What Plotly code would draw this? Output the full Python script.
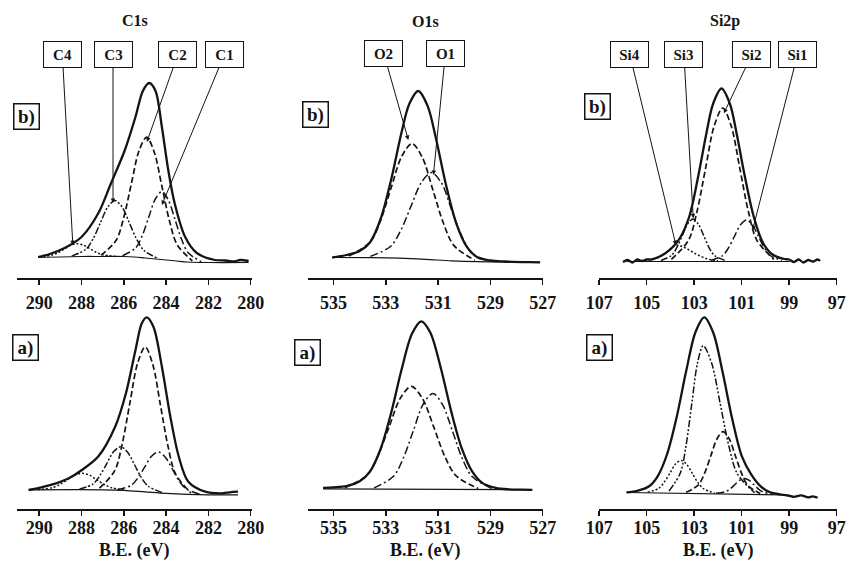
import plotly.graph_objects as go

# ================= DATA (binding energy in eV, intensity in a.u.) =================
# ---- C1s, sample b) ----
c1s_b_env_x = [290.05, 289.5, 288.8, 288.0, 287.2, 286.6, 285.95, 285.45, 285.1, 284.8, 284.5, 284.2, 283.9, 283.6, 283.1, 282.55, 281.7, 281.2, 280.8, 280.5, 280.1]
c1s_b_env_y = [21, 24, 30, 41, 65, 95, 128, 161, 187, 195, 187, 151, 108, 75, 41, 25, 18, 17.5, 16.5, 18, 17]
c1s_b_bg_x = [290.05, 288, 287, 286, 285.5, 285, 284.5, 284, 283.5, 283, 282, 280.1]
c1s_b_bg_y = [20.5, 21.5, 21.5, 21.5, 21, 20, 19, 18, 17, 16, 15.5, 15.5]
c1s_b_C1_x = [286.06, 285.44, 285.13, 284.82, 284.51, 284.2, 283.89, 283.58, 283.27, 282.96, 282.34]
c1s_b_C1_y = [22.3, 30.1, 42.3, 60.9, 79, 86.4, 77.8, 58.5, 38.7, 25.3, 16.3]
c1s_b_C2_x = [287.08, 286.36, 286.0, 285.64, 285.28, 284.92, 284.56, 284.2, 283.84, 283.48, 282.76]
c1s_b_C2_y = [22.8, 37.8, 60.8, 94.6, 127.3, 140.8, 125.8, 91.8, 57, 33.3, 17.1]
c1s_b_C3_x = [288.46, 287.78, 287.44, 287.1, 286.76, 286.42, 286.08, 285.74, 285.4, 285.06, 284.38]
c1s_b_C3_y = [21.9, 29, 39.7, 55.5, 70.9, 77.5, 70.9, 55.2, 39.1, 27.8, 19.4]
c1s_b_C4_x = [290.0, 289.4, 289.1, 288.8, 288.5, 288.2, 287.9, 287.6, 287.3, 287.0, 286.4]
c1s_b_C4_y = [21.1, 22.9, 25.4, 29.1, 32.8, 34.3, 32.8, 29.3, 25.6, 23.3, 21.6]

# ---- C1s, sample a) ----
c1s_a_env_x = [290.5, 289.9, 289.2, 288.6, 288.0, 287.2, 286.4, 285.9, 285.45, 285.15, 284.92, 284.6, 284.2, 283.8, 283.4, 282.95, 282.15, 281.4, 281.0, 280.6]
c1s_a_env_y = [19.3, 22, 26, 31, 39, 53, 83, 116, 159, 186, 192, 182.6, 142.6, 92.6, 52.6, 27.6, 17.6, 16, 17, 17.6]
c1s_a_bg_x = [290.5, 287, 286, 285, 284, 283, 282, 280.6]
c1s_a_bg_y = [19.5, 19.5, 19, 17.5, 16, 15, 14.5, 14.5]
c1s_a_C1_x = [286.31, 285.66, 285.34, 285.01, 284.69, 284.36, 284.04, 283.71, 283.39, 283.06, 282.41]
c1s_a_C1_y = [19.5, 23.9, 31.2, 42.4, 53.1, 57.4, 52.1, 40.4, 28.5, 20.5, 15.1]
c1s_a_C2_x = [287.15, 286.43, 286.07, 285.71, 285.35, 284.99, 284.63, 284.27, 283.91, 283.55, 282.83]
c1s_a_C2_y = [21.1, 38.6, 66.1, 106.6, 145.9, 162.5, 144.8, 104.3, 62.9, 35.1, 16.4]
c1s_a_C3_x = [288.1, 287.45, 287.13, 286.8, 286.48, 286.15, 285.83, 285.5, 285.18, 284.85, 284.2]
c1s_a_C3_y = [20, 25.4, 33.7, 46, 57.7, 62.6, 57.3, 44.8, 32, 23.1, 16.8]
c1s_a_C4_x = [290.07, 289.37, 289.02, 288.67, 288.32, 287.97, 287.62, 287.27, 286.92, 286.57, 285.87]
c1s_a_C4_y = [19.7, 21.7, 24.9, 29.5, 34.1, 36, 34.1, 29.5, 24.8, 21.5, 19.1]

# ---- O1s, sample b) ----
o1s_b_env_x = [535.05, 534.5, 534.0, 533.6, 533.2, 532.8, 532.4, 532.1, 531.76, 531.4, 531.1, 530.7, 530.3, 529.9, 529.5, 529.0, 528.5, 527.5, 527.1]
o1s_b_env_y = [20.5, 23, 27, 35.8, 59, 98, 145.5, 174.3, 187, 171.9, 141.6, 93.2, 54.1, 31.1, 20.8, 17.5, 16.5, 15.8, 15.7]
o1s_b_bg_x = [535.05, 533.5, 532.5, 531.5, 530.5, 529.5, 528, 527.1]
o1s_b_bg_y = [20.5, 20.3, 19.8, 18.7, 17.2, 16.3, 15.9, 15.7]
o1s_b_O1_x = [533.59, 532.81, 532.42, 532.03, 531.64, 531.25, 530.86, 530.47, 530.08, 529.69, 528.91]
o1s_b_O1_y = [21.6, 31.8, 48.1, 72.2, 95.6, 105.4, 94.5, 67, 41, 24, 16.5]
o1s_b_O2_x = [534.4, 533.6, 533.2, 532.8, 532.4, 532.0, 531.6, 531.2, 530.8, 530.4, 529.6]
o1s_b_O2_y = [22.1, 36.1, 57.8, 89.9, 121.2, 134.5, 120.3, 88.1, 55, 32.6, 17.7]

# ---- O1s, sample a) ----
o1s_a_env_x = [535.4, 535.0, 534.5, 534.0, 533.6, 533.2, 532.8, 532.4, 532.0, 531.64, 531.3, 530.9, 530.5, 530.1, 529.7, 529.3, 528.8, 528.3, 527.8, 527.4]
o1s_a_env_y = [21.5, 22, 23.3, 28, 38, 60.3, 96.1, 139.5, 175.6, 188, 176.8, 141.5, 97.9, 61.2, 38, 26.2, 21.5, 20, 19.6, 19.5]
o1s_a_bg_x = [535.4, 527.4]
o1s_a_bg_y = [20.5, 19.5]
o1s_a_O1_x = [533.45, 532.7, 532.33, 531.95, 531.58, 531.2, 530.83, 530.45, 530.08, 529.7, 528.95]
o1s_a_O1_y = [21.4, 33.2, 51.3, 78.4, 104.7, 115.9, 104.6, 78.1, 51, 32.7, 20.7]
o1s_a_O2_x = [534.57, 533.72, 533.3, 532.87, 532.45, 532.02, 531.6, 531.17, 530.75, 530.32, 529.47]
o1s_a_O2_y = [21.5, 34.2, 53.8, 82.7, 110.9, 123, 110.8, 82.4, 53.3, 33.7, 20.8]

# ---- Si2p, sample b) ----
si_b_env_x = [106.0, 105.8, 105.6, 105.4, 105.2, 105.0, 104.8, 104.5, 104.2, 103.9, 103.6, 103.2, 102.8, 102.5, 102.2, 101.85, 101.5, 101.2, 100.9, 100.5, 100.1, 99.7, 99.2, 99.0, 98.8, 98.6, 98.4, 98.2, 98.0, 97.8, 97.7]
si_b_env_y = [16, 18, 15.5, 18.5, 17, 18.5, 18.5, 21, 25, 31, 40, 62, 105.5, 143, 174.5, 189.5, 174.5, 143, 105.5, 62, 35, 23.5, 19, 18.5, 16, 18.5, 15.5, 18, 16.5, 18.5, 17]
si_b_bg_x = [105.85, 98.97]
si_b_bg_y = [16.5, 16.5]
si_b_Si1_x = [102.3, 101.8, 101.55, 101.3, 101.05, 100.8, 100.55, 100.3, 100.05, 99.8, 99.3]
si_b_Si1_y = [17.5, 22.5, 30.3, 41.9, 53.2, 58, 53.2, 41.9, 30.3, 22.5, 17.5]
si_b_Si2_x = [103.96, 103.24, 102.88, 102.52, 102.16, 101.8, 101.44, 101.08, 100.72, 100.36, 99.64]
si_b_Si2_y = [18.7, 37.7, 66.7, 109.9, 151.9, 170, 151.9, 109.9, 66.7, 37.7, 18.7]
si_b_Si3_x = [104.4, 103.95, 103.73, 103.5, 103.28, 103.05, 102.83, 102.6, 102.38, 102.15, 101.7]
si_b_Si3_y = [17.5, 22.7, 30.6, 42.5, 54, 59, 54, 42.5, 30.6, 22.7, 17.5]
si_b_Si4_x = [105.25, 104.75, 104.5, 104.25, 104.0, 103.75, 103.5, 103.25, 103.0, 102.75, 102.5, 102.25, 102.0]
si_b_Si4_y = [17.2, 18.8, 20.5, 24, 29.5, 33, 31.5, 28.5, 25, 22, 19.5, 18, 17.2]

# ---- Si2p, sample a) ----
si_a_env_x = [105.85, 105.4, 104.9, 104.54, 104.14, 103.74, 103.34, 102.94, 102.57, 102.2, 101.8, 101.4, 101.0, 100.6, 100.2, 99.8, 99.4, 99.1, 98.8, 98.5, 98.2, 98.0, 97.8]
si_a_env_y = [17, 18.5, 23, 33, 55.3, 92, 138, 177.6, 192, 176.8, 136.8, 90.5, 53.5, 35, 23, 17, 15, 14, 12.5, 14, 12, 13, 11.5]
si_a_bg_x = [105.85, 99.0]
si_a_bg_y = [16.8, 14.3]
si_a_Si1_x = [102.08, 101.68, 101.48, 101.28, 101.08, 100.88, 100.68, 100.48, 100.28, 100.08, 99.68]
si_a_Si1_y = [16, 17.7, 20.5, 24.8, 29.1, 30.8, 28.9, 24.5, 20, 17.1, 15]
si_a_Si2_x = [103.34, 102.82, 102.56, 102.3, 102.04, 101.78, 101.52, 101.26, 101.0, 100.74, 100.22]
si_a_Si2_y = [17, 24.5, 36.2, 53.5, 70.5, 77.7, 70.3, 53.1, 35.6, 23.7, 15.8]
si_a_Si3_x = [104.06, 103.58, 103.34, 103.1, 102.86, 102.62, 102.26, 101.9, 101.54, 101.18, 100.46]
si_a_Si3_y = [18.3, 36.6, 64.4, 105.9, 146.4, 163.7, 145.7, 105, 63.3, 35.4, 16.6]
si_a_Si4_x = [104.96, 104.49, 104.26, 104.02, 103.79, 103.55, 103.32, 103.08, 102.85, 102.61, 102.14]
si_a_Si4_y = [17.1, 21, 27.2, 36.2, 45.2, 48.9, 45.1, 36, 26.9, 20.6, 16.4]

# ---- tick labels / titles ----
c1s_ticks = [290, 288, 286, 284, 282, 280]
o1s_ticks = [535, 533, 531, 529, 527]
si_ticks = [107, 105, 103, 101, 99, 97]
panel_titles = ["C1s", "O1s", "Si2p"]
axis_title = "B.E. (eV)"

# ---- peak labels (arrow tip at component, in eV / a.u.) ----
c1s_lbl = ["C4", "C3", "C2", "C1"]
c1s_lbl_x = [288.41, 286.51, 284.91, 284.2]
c1s_lbl_y = [33, 75, 136, 73]
o1s_lbl = ["O2", "O1"]
o1s_lbl_x = [532.14, 531.18]
o1s_lbl_y = [138, 103]
si_lbl = ["Si4", "Si3", "Si2", "Si1"]
si_lbl_x = [103.77, 103.04, 101.75, 100.54]
si_lbl_y = [33, 59.7, 164.7, 48]

# ================= STYLE / LAYOUT =================
W, H = 846, 564
INK = "#141414"
FONT = "Liberation Serif"
STY = {
    "env": dict(width=2.3),
    "bg": dict(width=1.2),
    "k1": dict(width=1.5, dash="8px,3px,2px,3px"),
    "k2": dict(width=1.7, dash="6px,3px"),
    "k3": dict(width=1.5, dash="7px,2px,2px,2px,2px,2px"),
    "k4": dict(width=1.5, dash="2px,2px"),
}

panels = [
    (1, [(c1s_b_bg_x, c1s_b_bg_y, "bg"), (c1s_b_C4_x, c1s_b_C4_y, "k4"), (c1s_b_C3_x, c1s_b_C3_y, "k3"),
         (c1s_b_C2_x, c1s_b_C2_y, "k2"), (c1s_b_C1_x, c1s_b_C1_y, "k1"), (c1s_b_env_x, c1s_b_env_y, "env")]),
    (2, [(o1s_b_bg_x, o1s_b_bg_y, "bg"), (o1s_b_O2_x, o1s_b_O2_y, "k2"), (o1s_b_O1_x, o1s_b_O1_y, "k1"),
         (o1s_b_env_x, o1s_b_env_y, "env")]),
    (3, [(si_b_bg_x, si_b_bg_y, "bg"), (si_b_Si4_x, si_b_Si4_y, "k4"), (si_b_Si3_x, si_b_Si3_y, "k3"),
         (si_b_Si2_x, si_b_Si2_y, "k2"), (si_b_Si1_x, si_b_Si1_y, "k1"), (si_b_env_x, si_b_env_y, "env")]),
    (4, [(c1s_a_bg_x, c1s_a_bg_y, "bg"), (c1s_a_C4_x, c1s_a_C4_y, "k4"), (c1s_a_C3_x, c1s_a_C3_y, "k3"),
         (c1s_a_C2_x, c1s_a_C2_y, "k2"), (c1s_a_C1_x, c1s_a_C1_y, "k1"), (c1s_a_env_x, c1s_a_env_y, "env")]),
    (5, [(o1s_a_bg_x, o1s_a_bg_y, "bg"), (o1s_a_O2_x, o1s_a_O2_y, "k2"), (o1s_a_O1_x, o1s_a_O1_y, "k1"),
         (o1s_a_env_x, o1s_a_env_y, "env")]),
    (6, [(si_a_bg_x, si_a_bg_y, "bg"), (si_a_Si4_x, si_a_Si4_y, "k4"), (si_a_Si3_x, si_a_Si3_y, "k3"),
         (si_a_Si2_x, si_a_Si2_y, "k2"), (si_a_Si1_x, si_a_Si1_y, "k1"), (si_a_env_x, si_a_env_y, "env")]),
]

def ax_id(i):
    return "" if i == 1 else str(i)

fig = go.Figure()
for idx, series in panels:
    for x, y, st in series:
        fig.add_trace(go.Scatter(
            x=x, y=y, mode="lines", hoverinfo="skip", showlegend=False,
            line=dict(color=INK, shape="spline", smoothing=0.9, **STY[st]),
            xaxis="x" + ax_id(idx), yaxis="y" + ax_id(idx)))

px2x = lambda p: p / W
py2y = lambda p: 1 - p / H

x_dom = [[px2x(17), px2x(252)], [px2x(308), px2x(543)], [px2x(599), px2x(837)]]
x_rng = [[291.05, 279.94], [535.976, 526.99], [107.01, 96.985]]
x_tck = [c1s_ticks, o1s_ticks, si_ticks]
y_dom = [[py2y(278), py2y(68)], [py2y(509.3), py2y(299.3)]]

lay = {}
for i in range(1, 7):
    col = (i - 1) % 3
    row = (i - 1) // 3
    lay["xaxis" + ax_id(i)] = dict(
        domain=x_dom[col], range=x_rng[col], anchor="y" + ax_id(i),
        tickmode="array", tickvals=x_tck[col], ticktext=[str(t) for t in x_tck[col]],
        showline=True, linecolor=INK, linewidth=2, ticks="outside", ticklen=5,
        tickwidth=1.5, tickcolor=INK, showgrid=False, zeroline=False, automargin=False,
        tickfont=dict(family=FONT, size=18, color=INK, weight="bold"),
        ticklabelstandoff=2 if row == 0 else -4,
    )
    lay["yaxis" + ax_id(i)] = dict(domain=y_dom[row], range=[0, 210], visible=False,
                                   anchor="x" + ax_id(i), automargin=False)

ann = []
def txt(px, py, s, size):
    ann.append(dict(x=px2x(px), y=py2y(py), xref="paper", yref="paper", text=s, showarrow=False,
                    xanchor="center", yanchor="middle",
                    font=dict(family=FONT, size=size, color=INK, weight="bold")))

def box(px, py, s, size, w, h, bw):
    ann.append(dict(x=px2x(px), y=py2y(py), xref="paper", yref="paper", text=s, showarrow=False,
                    xanchor="center", yanchor="middle", width=w, height=h, borderpad=2,
                    bordercolor=INK, borderwidth=bw, bgcolor="white",
                    font=dict(family=FONT, size=size, color=INK, weight="bold")))

for (px, py), s in zip([(135, 20), (426, 21), (725, 21)], panel_titles):
    txt(px, py, s, 16)
for px in (134.5, 425.5, 718):
    txt(px, 550, axis_title, 18)

for px, py in [(26, 117), (315, 114), (597.5, 106)]:
    box(px, py, "b)", 19, 20, 20, 1.5)
for px, py in [(25.5, 347), (307, 352), (599.5, 347)]:
    box(px, py, "a)", 19, 20, 20, 1.5)

def peak_labels(idx, names, xs, ys, boxes_px):
    for n, x, y, (bx, by) in zip(names, xs, ys, boxes_px):
        ann.append(dict(x=x, y=y, xref="x" + ax_id(idx), yref="y" + ax_id(idx), text=n,
                        showarrow=True, axref="pixel", ayref="pixel", ax=bx, ay=by,
                        arrowhead=2, arrowsize=0.9, arrowwidth=1, arrowcolor=INK,
                        width=33, height=21, borderpad=2, bordercolor=INK, borderwidth=1,
                        bgcolor="white", standoff=0,
                        font=dict(family=FONT, size=15, color=INK, weight="bold")))

peak_labels(1, c1s_lbl, c1s_lbl_x, c1s_lbl_y, [(-10.5, -190.5), (0, -148.5), (31, -87.5), (62.5, -150.5)])
peak_labels(2, o1s_lbl, o1s_lbl_x, o1s_lbl_y, [(-24.6, -86.7), (12, -121.7)])
peak_labels(3, si_lbl, si_lbl_x, si_lbl_y, [(-46, -190), (-9.3, -163.3), (27.7, -58.3), (44.8, -175)])

fig.update_layout(width=W, height=H, margin=dict(l=0, r=0, t=0, b=0, autoexpand=False),
                  paper_bgcolor="white", plot_bgcolor="white", showlegend=False,
                  annotations=ann, **lay)

fix_page = ("document.documentElement.style.margin='0';document.documentElement.style.overflow='hidden';"
            "document.body.style.margin='0';document.body.style.padding='0';document.body.style.overflow='hidden';"
            "var gd=document.getElementById('{plot_id}');Plotly.relayout(gd,{width:%d,height:%d});" % (W, H))
fig.write_html("out.html", post_script=fix_page,
               config={"responsive": False, "displayModeBar": False, "staticPlot": True})
